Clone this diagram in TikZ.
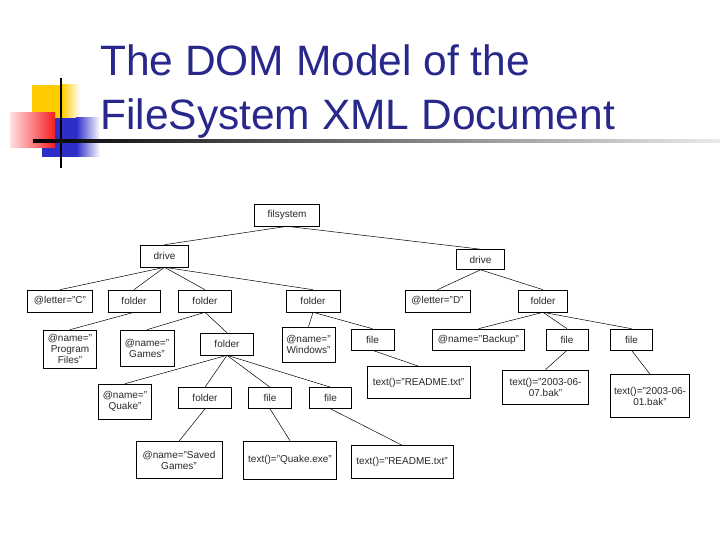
\documentclass[tikz,border=0pt]{standalone}
\usepackage{xcolor,tikz,fontspec}
\setmainfont{Liberation Sans}
\usetikzlibrary{positioning,calc}
\definecolor{titleblue}{RGB}{40,40,140}
\definecolor{logoyellow}{RGB}{255,204,0}
\definecolor{logored}{RGB}{245,30,35}
\definecolor{logoblue}{RGB}{45,45,200}
\definecolor{ink}{RGB}{40,40,40}
\tikzset{
  box/.style={draw=black,line width=0.6pt,fill=white,text=ink,align=center,inner sep=1pt,
    font=\fontsize{10}{11}\selectfont},
  edge/.style={draw=black,line width=0.5pt},
  ttl/.style={anchor=base west,text=titleblue,inner sep=0pt,font=\fontsize{42.5}{50}\selectfont}
}
\begin{document}
\begin{tikzpicture}[x=1pt,y=-1pt]
  \useasboundingbox[fill=white] (0,0) rectangle (720,540);
  % logo
  \fill[logoyellow] (32,85) rectangle (62,120);
  \shade[left color=logoyellow,right color=white] (62,85) rectangle (80,120);
  \fill[logoblue] (42,118) rectangle (76,157);
  \shade[left color=logoblue,right color=white] (76,118) rectangle (100,157);
  \shade[left color=red!12,right color=logored] (10,113) rectangle (55,148);
  \draw[line width=2.4pt] (61,78) -- (61,168);
  \shade[left color=black,right color=black!8] (33,140) rectangle (720,142.5);
  \node[ttl] (t1) at (100,76) {The DOM Model of the};
  \node[ttl] (t2) at (100,130) {FileSystem XML Document};

  % tree nodes
  \foreach \n/\x/\y/\w/\h/\t in {
    fs/287/215/65/22/filsystem,
    drC/164.5/256/48/22/drive,
    drD/480.5/259.5/48/20/drive,
    ltC/60/301/65/22/@letter="C",
    fdPF/134/301/52/22/folder,
    fdG/205/301/53/22/folder,
    fdW/313/301/54/22/folder,
    ltD/437.5/301/65/22/@letter="D",
    fdB/543/301/49/22/folder,
    nmPF/70/349/53/38/@name="\\Program\\Files",
    nmG/147/348/54/36/@name="\\Games",
    fdQ/227/344/53/22/folder,
    nmW/308.5/344.5/53/35/@name="\\Windows",
    flW/372.5/339.5/43/21/file,
    nmB/478.5/339.5/92/21/@name="Backup",
    flB1/567/339.5/42/21/file,
    flB2/631.5/339.5/42/21/file,
    txW/418.5/382.5/103/32/text()="README.txt",
    txB1/545.5/387/86/34/text()="2003-06-\\07.bak",
    txB2/650/396/79/43/text()="2003-06-\\01.bak",
    nmQ/125/401.5/53/35/@name="\\Quake",
    fdS/205/398/53/21/folder,
    flQ/270/398/43/21/file,
    flR/330.5/398/42/21/file,
    nmS/179/460/86/37/@name="Saved\\Games",
    txQ/290/460/93/38/text()="Quake.exe",
    txR/402/462/102/33/text()="README.txt"}
    {\node[box,minimum width=\w,minimum height=\h] (\n) at (\x,\y) {\t};}

  % parent -> child
  \foreach \p/\c in {fs/drC,fs/drD,drC/ltC,drC/fdPF,drC/fdG,drC/fdW,drD/ltD,drD/fdB,
    fdPF/nmPF,fdG/nmG,fdG/fdQ,fdW/nmW,fdW/flW,flW/txW,fdB/nmB,fdB/flB1,fdB/flB2,
    flB1/txB1,flB2/txB2,fdQ/nmQ,fdQ/fdS,fdQ/flQ,fdQ/flR,fdS/nmS,flQ/txQ,flR/txR}
    {\draw[edge] (\p.south) -- (\c.north);}
\end{tikzpicture}
\end{document}
